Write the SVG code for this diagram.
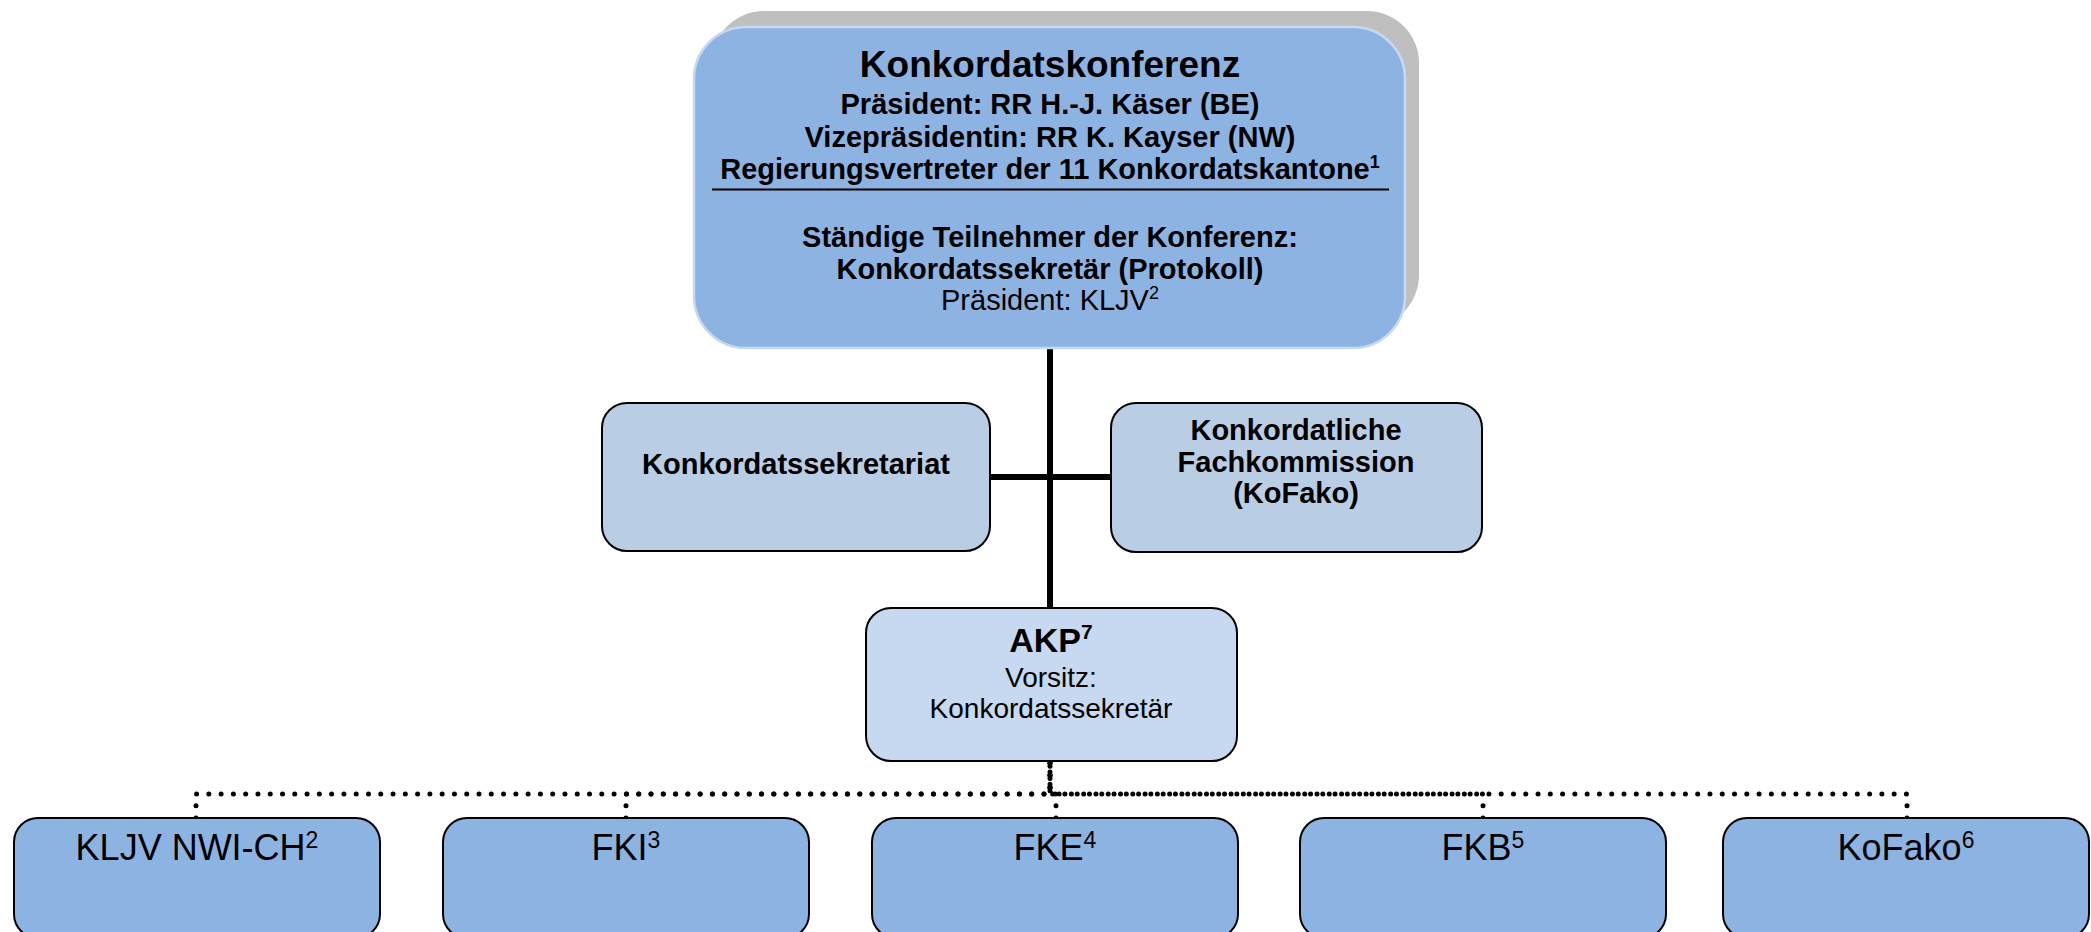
<svg xmlns="http://www.w3.org/2000/svg" width="2091" height="932" viewBox="0 0 2091 932">
<style>
.t{font-family:"Liberation Sans",Arial,sans-serif;fill:#000;text-anchor:middle}
.b{font-weight:bold}
.box{stroke:#000;stroke-width:2}
.mid{fill:#B9CDE5}
.akp{fill:#C6D9F1}
.low{fill:#8DB3E2}
.solid{stroke:#000;stroke-width:6;fill:none}
.dot{stroke:#000;stroke-width:5;fill:none;stroke-linecap:round;stroke-dasharray:0 12.28}
</style>
<rect width="2091" height="932" fill="#fff"/>
<g id="connectors">
<path class="solid" d="M1050,348 V609"/>
<path class="solid" d="M990,477 H1111"/>
<path class="dot" d="M196,818 V794 H1050 V762"/>
<path class="dot" d="M626,818 V794 H1050 V762"/>
<path class="dot" d="M1056,818 V794 H1050 V762"/>
<path class="dot" d="M1483,818 V794 H1050 V762"/>
<path class="dot" d="M1907,818 V794 H1050 V762"/>
</g>
<g id="konferenz">
<rect x="712" y="11" width="707" height="316" rx="52" fill="#BFBFBF"/>
<rect x="694" y="27" width="711" height="321" rx="52" fill="#8DB3E2" stroke="#C6D9F1" stroke-width="2.5"/>
<text class="t b" x="1050" y="77" font-size="37">Konkordatskonferenz</text>
<text class="t b" x="1050" y="114" font-size="29">Präsident: RR H.-J. Käser (BE)</text>
<text class="t b" x="1050" y="147" font-size="29">Vizepräsidentin: RR K. Kayser (NW)</text>
<text class="t b" x="1050" y="179" font-size="29">Regierungsvertreter der 11 Konkordatskantone<tspan font-size="18" dy="-11">1</tspan></text>
<line x1="712" y1="189.5" x2="1389" y2="189.5" stroke="#000" stroke-width="2"/>
<text class="t b" x="1050" y="247" font-size="29">Ständige Teilnehmer der Konferenz:</text>
<text class="t b" x="1050" y="279" font-size="29">Konkordatssekretär (Protokoll)</text>
<text class="t" x="1050" y="310" font-size="29">Präsident: KLJV<tspan font-size="18" dy="-11">2</tspan></text>
</g>
<g id="sekretariat">
<rect class="box mid" x="602" y="403" width="388" height="148" rx="25"/>
<text class="t b" x="796" y="474" font-size="29">Konkordatssekretariat</text>
</g>
<g id="kofako-kommission">
<rect class="box mid" x="1111" y="403" width="371" height="149" rx="25"/>
<text class="t b" x="1296" y="440" font-size="29">Konkordatliche</text>
<text class="t b" x="1296" y="472" font-size="29">Fachkommission</text>
<text class="t b" x="1296" y="503" font-size="29">(KoFako)</text>
</g>
<g id="akp">
<rect class="box akp" x="866" y="608" width="371" height="153" rx="25"/>
<text class="t b" x="1051" y="652" font-size="34">AKP<tspan font-size="21" dy="-13">7</tspan></text>
<text class="t" x="1051" y="687" font-size="28">Vorsitz:</text>
<text class="t" x="1051" y="718" font-size="28">Konkordatssekretär</text>
</g>
<g id="kljv">
<rect class="box low" x="14" y="818" width="366" height="120" rx="24"/>
<text class="t" x="197" y="860" font-size="36">KLJV NWI-CH<tspan font-size="23" dy="-12">2</tspan></text>
</g>
<g id="fki">
<rect class="box low" x="443" y="818" width="366" height="120" rx="24"/>
<text class="t" x="626" y="860" font-size="36">FKI<tspan font-size="23" dy="-12">3</tspan></text>
</g>
<g id="fke">
<rect class="box low" x="872" y="818" width="366" height="120" rx="24"/>
<text class="t" x="1055" y="860" font-size="36">FKE<tspan font-size="23" dy="-12">4</tspan></text>
</g>
<g id="fkb">
<rect class="box low" x="1300" y="818" width="366" height="120" rx="24"/>
<text class="t" x="1483" y="860" font-size="36">FKB<tspan font-size="23" dy="-12">5</tspan></text>
</g>
<g id="kofako">
<rect class="box low" x="1723" y="818" width="366" height="120" rx="24"/>
<text class="t" x="1906" y="860" font-size="36">KoFako<tspan font-size="23" dy="-12">6</tspan></text>
</g>
</svg>
